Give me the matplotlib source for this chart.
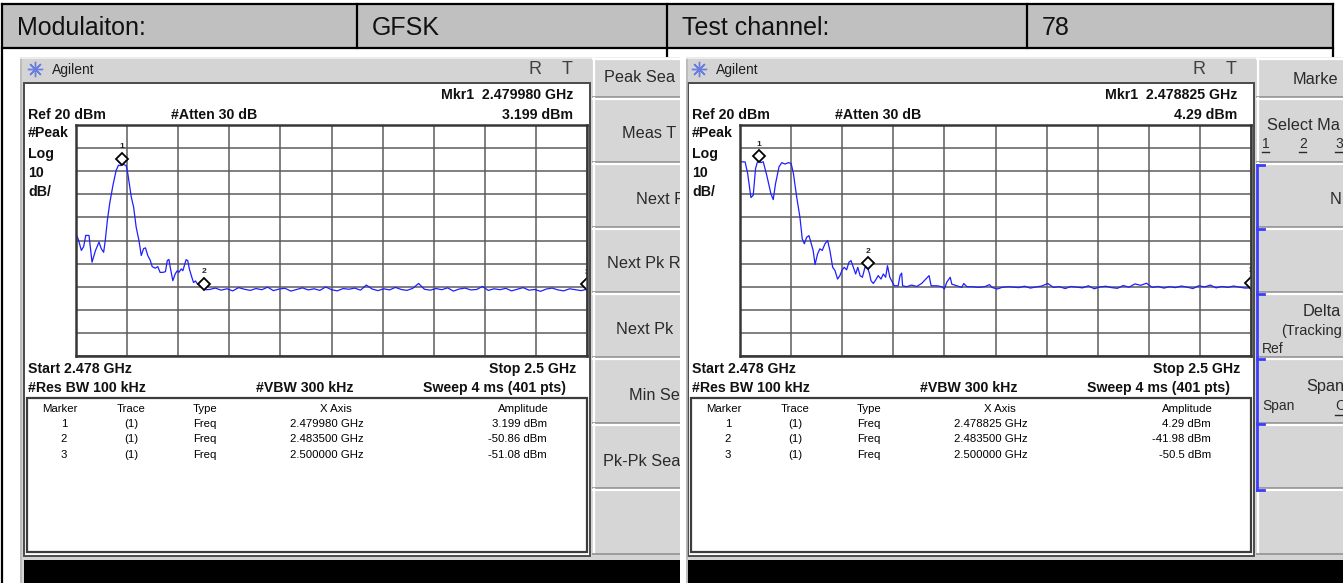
import numpy as np
import matplotlib
matplotlib.use("Agg")
import matplotlib.pyplot as plt
from matplotlib.patches import Rectangle
from matplotlib.transforms import offset_copy

plt.rcParams['font.family'] = ['Liberation Sans', 'DejaVu Sans']

# test info row
info_labels = ["Modulaiton:", "GFSK", "Test channel:", "78"]

# analyzer setup (same on both screens)
start_ghz = 2.478
stop_ghz = 2.5
ref_dbm = 20
db_per_div = 10
rbw_khz = 100
vbw_khz = 300
sweep_ms = 4
sweep_pts = 401
atten_db = 30

# screen 1 trace, band edge region (MHz, dBm)
left_freq_mhz = [2478.00, 2478.10, 2478.23, 2478.33, 2478.42, 2478.56, 2478.69, 2478.84,
                 2478.99, 2479.09, 2479.19, 2479.26, 2479.35, 2479.45, 2479.59, 2479.73,
                 2479.83, 2479.92, 2479.98, 2480.05, 2480.16, 2480.23, 2480.38, 2480.48,
                 2480.59, 2480.71, 2480.81, 2480.91, 2480.99, 2481.09, 2481.19, 2481.28,
                 2481.41, 2481.52, 2481.62, 2481.74, 2481.85, 2481.93, 2482.00, 2482.07,
                 2482.17, 2482.27, 2482.36, 2482.43, 2482.53, 2482.60, 2482.74, 2482.81,
                 2482.88, 2482.98, 2483.06, 2483.14, 2483.24, 2483.36, 2483.43, 2483.50,
                 2483.60]
left_level_dbm = [-27.1, -29.5, -34.3, -32.6, -27.8, -27.8, -39.4, -34.3,
                  -30.7, -33.6, -35.1, -30.0, -21.3, -14.0, -6.1, 0.4,
                  2.6, 2.4, 3.199, 2.9, 2.4, -1.0, -11.2, -15.5,
                  -24.2, -30.0, -36.5, -33.5, -33.2, -36.5, -38.4, -41.3,
                  -42.0, -41.3, -43.8, -43.8, -43.5, -38.7, -38.2, -42.3,
                  -47.4, -44.5, -43.1, -43.8, -42.3, -43.1, -38.3, -38.7,
                  -42.3, -45.7, -48.2, -47.5, -49.0, -48.8, -50.4, -50.86,
                  -51.3]
# screen 1 noise floor, 2483.75 .. 2500 MHz in 0.25 MHz steps
left_floor_dbm = [-51.2, -50.6, -51.5, -50.9, -51.8, -50.4, -51.1, -51.6, -50.8, -51.3,
                  -50.2, -51.7, -51.0, -50.7, -51.9, -51.2, -50.5, -51.4, -50.9, -51.6,
                  -50.1, -51.3, -51.8, -50.8, -51.1, -50.6, -51.5, -49.3, -51.0, -51.7,
                  -50.9, -51.4, -50.3, -51.2, -51.6, -50.7, -48.6, -51.1, -51.5, -50.8,
                  -51.3, -50.5, -51.9, -51.0, -50.6, -51.4, -51.2, -49.9, -51.6, -50.9,
                  -51.3, -50.7, -51.8, -51.1, -50.4, -51.5, -51.2, -52.0, -51.0, -50.6,
                  -51.4, -51.8, -50.9, -51.3, -51.7, -51.08]

# screen 2 trace (MHz, dBm)
right_freq_mhz = [2478.00, 2478.22, 2478.33, 2478.47, 2478.57, 2478.67, 2478.75, 2478.825,
                  2478.90, 2479.00, 2479.15, 2479.33, 2479.43, 2479.53, 2479.68, 2479.80,
                  2479.94, 2480.08, 2480.20, 2480.30, 2480.44, 2480.58, 2480.68, 2480.77,
                  2480.87, 2480.97, 2481.05, 2481.15, 2481.23, 2481.34, 2481.44, 2481.54,
                  2481.66, 2481.77, 2481.87, 2481.99, 2482.09, 2482.20, 2482.30, 2482.40,
                  2482.49, 2482.59, 2482.69, 2482.78, 2482.88, 2482.98, 2483.07, 2483.17,
                  2483.27, 2483.38, 2483.50, 2483.58, 2483.64, 2483.74, 2483.84, 2483.95,
                  2484.07, 2484.17, 2484.27, 2484.35, 2484.45, 2484.56, 2484.64, 2484.81,
                  2484.89, 2484.96, 2485.00, 2485.18, 2485.39, 2485.61, 2485.82, 2486.00,
                  2486.14, 2486.23, 2486.47, 2486.69, 2486.80, 2486.90, 2487.05, 2487.12,
                  2487.34, 2487.55, 2487.63, 2487.77, 2487.99, 2488.27, 2488.56, 2488.74,
                  2488.85, 2489.07, 2489.28, 2489.57, 2489.86]
right_level_dbm = [4.1, 4.0, -1.0, -11.4, -10.4, 1.2, 4.0, 4.29,
                   3.7, 4.1, -1.7, -9.7, -12.3, -5.4, 1.9, 3.7,
                   3.1, 3.7, 3.4, -1.0, -11.2, -19.9, -29.3, -31.4,
                   -28.6, -27.9, -30.8, -34.3, -40.4, -35.8, -33.6, -34.3,
                   -31.4, -30.0, -34.3, -41.6, -43.0, -46.7, -45.2, -42.7,
                   -41.6, -42.7, -39.4, -38.7, -41.6, -44.5, -41.6, -45.2,
                   -45.9, -41.6, -41.98, -44.5, -47.4, -48.6, -47.1, -45.2,
                   -46.7, -44.5, -45.9, -40.9, -45.9, -48.1, -49.6, -49.6,
                   -45.2, -44.1, -49.6, -50.0, -49.3, -49.9, -48.6, -46.7,
                   -45.2, -49.6, -49.6, -50.0, -51.0, -48.1, -45.9, -48.9,
                   -49.6, -50.3, -48.6, -50.0, -50.0, -50.3, -49.9, -49.1,
                   -50.3, -51.0, -50.3, -50.0, -50.3]
# screen 2 noise floor, 2490 .. 2500 MHz in 0.25 MHz steps
right_floor_dbm = [-50.4, -49.8, -50.6, -50.1, -49.7, -48.6, -50.3, -50.0, -50.8, -49.9,
                   -50.2, -50.5, -49.6, -50.9, -50.1, -49.8, -50.4, -50.7, -49.5, -50.2,
                   -48.8, -49.4, -48.5, -50.3, -49.9, -50.6, -50.0, -50.4, -49.7, -50.2,
                   -50.8, -49.6, -50.1, -49.3, -50.5, -49.9, -50.3, -49.7, -50.2, -50.6,
                   -50.5]

# marker readouts
left_mkr_ghz = [2.479980, 2.483500, 2.500000]
left_mkr_dbm = [3.199, -50.86, -51.08]
right_mkr_ghz = [2.478825, 2.483500, 2.500000]
right_mkr_dbm = [4.29, -41.98, -50.5]

# softkey captions as far as they fit on each screen
left_keys = ["Peak Sea", "Meas T", "Next P", "Next Pk R", "Next Pk", "Min Se", "Pk-Pk Sea"]
right_keys = ["Marke", "Select Ma", "N", "Delta", "(Tracking", "Span"]

W, H = 1343, 583
fig = plt.figure(figsize=(W / 100, H / 100), dpi=100)


def pixel_axes(x0, y0, x1, y1, z):
    ax = fig.add_axes([x0 / W, 1 - y1 / H, (x1 - x0) / W, (y1 - y0) / H], zorder=z)
    ax.set_xlim(x0, x1)
    ax.set_ylim(y1, y0)
    ax.axis('off')
    return ax


page = pixel_axes(0, 0, W, H, 0)
page.add_patch(Rectangle((2, 4), 1331, 44, fc='#c0c0c0', ec='none'))
for y in (4, 48):
    page.plot([2, 1333], [y, y], color='black', lw=1.6)
page.plot([2, 2], [4, 583], color='black', lw=1.6)
for x, y_end in ((357, 48), (667, 58), (1027, 48), (1333, 58)):
    page.plot([x, x], [4, y_end], color='black', lw=1.6)
for x, s in zip((17, 372, 682, 1042), info_labels):
    page.text(x, 28, s, fontsize=18, va='center', color='#111111')

KEY_ROWS = [(58, 97), (98, 162), (163, 227), (228, 292), (293, 357), (358, 423), (424, 488), (489, 554)]


def bold(ax, x, y, s, ha='left'):
    ax.text(x, y, s, fontsize=10.2, fontweight='bold', ha=ha, va='center',
            color='#111111', clip_on=True)


def key_text(ax, x, y, s, size=11.7):
    ax.text(x, y, s, fontsize=size, va='center', color='#2a2a2a', clip_on=True)


def draw_screen(dx, vis_x0, vis_x1, mkr_ghz, mkr_dbm):
    s = pixel_axes(vis_x0, 57, vis_x1, 583, 1)
    s.add_patch(Rectangle((vis_x0, 57), vis_x1 - vis_x0, 526, fc='#d4d4d4', ec='none'))
    s.plot([vis_x0 + 1, vis_x0 + 1], [57, 583], color='#b8b8b8', lw=1.2)
    s.plot([vis_x0, vis_x1], [58, 58], color='#f2f2f2', lw=1.2)

    # title bar
    s.plot(35 + dx, 69, marker=(8, 2, 0), ms=11, color='#6a7ee0', mew=1.0)
    s.text(52 + dx, 70, 'Agilent', fontsize=10, va='center', color='#202020', clip_on=True)
    s.text(535 + dx, 70, 'R', fontsize=13, va='center', ha='center', color='#404040', clip_on=True)
    s.text(567 + dx, 70, 'T', fontsize=13, va='center', ha='center', color='#404040', clip_on=True)

    # display panel
    s.add_patch(Rectangle((24 + dx, 83), 566, 473, fc='white', ec='#4a4a4a', lw=1.4))
    bold(s, 573 + dx, 95, f"Mkr1  {mkr_ghz[0]:.6f} GHz", ha='right')
    bold(s, 28 + dx, 115, f"Ref {ref_dbm} dBm")
    bold(s, 171 + dx, 115, f"#Atten {atten_db} dB")
    bold(s, 573 + dx, 115, f"{mkr_dbm[0]:g} dBm", ha='right')
    for y, t in zip((133, 154, 173, 192), ("#Peak", "Log", f"{db_per_div}", "dB/")):
        bold(s, 28 + dx, y, t)
    bold(s, 28 + dx, 369, f"Start {start_ghz:g} GHz")
    bold(s, 576 + dx, 369, f"Stop {stop_ghz:g} GHz", ha='right')
    bold(s, 28 + dx, 388, f"#Res BW {rbw_khz} kHz")
    bold(s, 256 + dx, 388, f"#VBW {vbw_khz} kHz")
    bold(s, 566 + dx, 388, f"Sweep {sweep_ms} ms ({sweep_pts} pts)", ha='right')

    # marker table
    tx = 27 + dx
    s.add_patch(Rectangle((tx, 398), 560, 154, fc='white', ec='#3c3c3c', lw=1.6))
    for t, x, ha in (("Marker", 33, 'center'), ("Trace", 104, 'center'), ("Type", 166, 'left'),
                     ("X Axis", 309, 'center'), ("Amplitude", 496, 'center')):
        s.text(tx + x, 409, t, fontsize=8.2, ha=ha, va='center', clip_on=True)
    for i, (f, a) in enumerate(zip(mkr_ghz, mkr_dbm)):
        y = 424 + i * 15.5
        s.text(tx + 37, y, str(i + 1), fontsize=8.2, ha='center', va='center', clip_on=True)
        s.text(tx + 104, y, "(1)", fontsize=8.2, ha='center', va='center', clip_on=True)
        s.text(tx + 166, y, "Freq", fontsize=8.2, ha='left', va='center', clip_on=True)
        s.text(tx + 300, y, f"{f:.6f} GHz", fontsize=8.2, ha='center', va='center', clip_on=True)
        s.text(tx + 520, y, f"{a:g} dBm", fontsize=8.2, ha='right', va='center', clip_on=True)

    # softkey column
    kx = 593 + dx
    for ya, yb in KEY_ROWS:
        s.add_patch(Rectangle((kx, ya), 200, yb - ya, fc='#d6d6d6', ec='none'))
        s.plot([kx, kx + 200], [ya + 1, ya + 1], color='white', lw=1.6)
        s.plot([kx + 1, kx + 1], [ya, yb], color='white', lw=1.6)
        s.plot([kx, kx + 200], [yb, yb], color='#9c9c9c', lw=1.4)

    # status bar
    s.add_patch(Rectangle((24 + dx, 560), 800, 23, fc='black', ec='none'))
    return s


def draw_trace(gx0, freq_mhz, level_dbm, mkr_ghz, mkr_dbm):
    ax = fig.add_axes([gx0 / W, 1 - 356 / H, 511 / W, 231 / H], zorder=2)
    ax.set_xlim(start_ghz, stop_ghz)
    ax.set_ylim(ref_dbm - 10 * db_per_div, ref_dbm)
    ax.set_xticks(np.linspace(start_ghz, stop_ghz, 11))
    ax.set_yticks(np.arange(ref_dbm - 10 * db_per_div, ref_dbm + 1, db_per_div))
    ax.tick_params(length=0, labelbottom=False, labelleft=False)
    ax.grid(True, color='#5c5c5c', lw=1.1)
    for sp in ax.spines.values():
        sp.set_color('#363636')
        sp.set_linewidth(1.8)
    ax.plot(np.asarray(freq_mhz) / 1000, level_dbm, color='#1f1fff', lw=0.9)
    up = offset_copy(ax.transData, fig=fig, x=0, y=5, units='dots')
    lab = offset_copy(ax.transData, fig=fig, x=0, y=17, units='dots')
    for i, (f, a) in enumerate(zip(mkr_ghz, mkr_dbm)):
        ax.plot(f, a, marker='D', ms=6.5, mfc='white', mec='black', mew=1.3,
                transform=up, clip_on=True)
        ax.text(f, a, str(i + 1), transform=lab, fontsize=6, fontweight='bold',
                ha='center', va='center', color='#202020', clip_on=True)


left = draw_screen(0, 20, 680, left_mkr_ghz, left_mkr_dbm)
for t, x, y in zip(left_keys, (604, 622, 636, 607, 616, 629, 603), (78, 134, 199, 264, 330, 396, 461)):
    key_text(left, x, y, t)

right = draw_screen(664, 686, 1343, right_mkr_ghz, right_mkr_dbm)
for t, x, y, size in zip(right_keys, (1293, 1267, 1330, 1303, 1281, 1306),
                         (79, 126, 199, 312, 331, 387), (11.7, 11.7, 11.7, 11.7, 10.5, 11.7)):
    key_text(right, x, y, t, size=size)
key_text(right, 1262, 349, "Ref", size=10)
key_text(right, 1262, 406, "Span", size=10)
key_text(right, 1335, 406, "C", size=10)
for n, x in zip(("1", "2", "3"), (1262, 1299, 1335)):
    key_text(right, x, 144, n, size=10)
    right.plot([x, x + 7], [152, 152], color='#2a2a2a', lw=1)
right.plot([1335, 1343], [415, 415], color='#2a2a2a', lw=1)
# blue bracket marking the active key group
right.plot([1257, 1257], [165, 490], color='#3c3cff', lw=2)
for y in (165, 229, 294, 359, 424, 490):
    right.plot([1257, 1264], [y, y], color='#3c3cff', lw=2)

draw_trace(76, left_freq_mhz + list(np.linspace(2483.75, 2500.0, len(left_floor_dbm))),
           left_level_dbm + left_floor_dbm, left_mkr_ghz, left_mkr_dbm)
draw_trace(740, right_freq_mhz + list(np.linspace(2490.0, 2500.0, len(right_floor_dbm))),
           right_level_dbm + right_floor_dbm, right_mkr_ghz, right_mkr_dbm)

fig.savefig('out.png', dpi=100)
